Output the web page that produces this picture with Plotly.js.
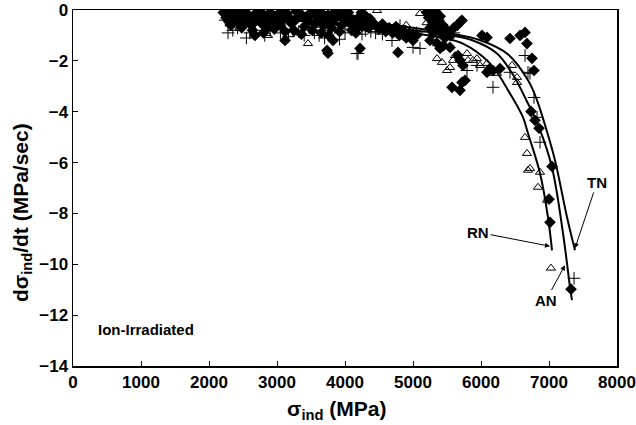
<!DOCTYPE html>
<html>
<head>
<meta charset="utf-8">
<script src="https://cdn.plot.ly/plotly-3.0.1.min.js"></script>
<style>html,body{margin:0;padding:0;background:#fff;}#chart{width:636px;height:425px;}</style>
</head>
<body>
<div id="chart"></div>
<script>
// Filled diamonds
var diamondX = [2230,2260,2300,2340,2380,2420,2460,2500,2540,2580,2620,2660,2700,2740,2780,2820,2860,2900,2950,3000,3050,3100,3150,3200,3250,3300,3350,3400,3450,3500,3550,3600,3650,3700,3750,3800,3850,3900,3950,4000,4050,4100,4150,4200,4250,4300,4350,4400,
  2250,2320,2400,2480,2560,2640,2720,2800,2880,2960,3040,3120,3200,3280,3360,3440,3520,3600,3680,3760,3840,3920,4000,4080,4160,4240,4320,
  2210,2290,2370,2450,2530,2610,2690,2770,2850,2930,3010,3090,3170,3250,3330,3410,3490,3570,3650,3730,3810,3890,3970,4050,4130,4210,4290,4370,
  4450,4500,4550,4600,4650,4700,4750,4800,4850,4900,4950,5000,5050,
  5200,5230,5260,5290,5320,5350,5380,5410,5440,5470,5300,5250,5500,5550,5600,5650,5700,5250,5350,5450,5280,5330,5400,
  2676,3118,3735,3750,3824,4221,4779,5397,5544,5647,5721,5662,5691,5735,5574,5721,5765,5691,6015,6088,6088,6132,6176,6279,6426,6574,6647,6676,6750,6779,6735,6794,6853,7044,7000,7015,7324];
var diamondY = [-0.05,-0.2,-0.1,-0.35,-0.15,-0.5,-0.25,-0.1,-0.45,-0.3,-0.6,-0.2,-0.4,-0.15,-0.55,-0.3,-0.7,-0.1,-0.45,-0.25,-0.6,-0.35,-0.15,-0.5,-0.8,-0.3,-0.2,-0.65,-0.4,-0.1,-0.55,-0.3,-0.9,-0.45,-0.2,-0.7,-0.35,-0.15,-0.6,-0.4,-0.25,-0.8,-0.5,-0.3,-0.65,-0.45,-0.7,-0.5,
  -0.3,-0.6,-0.05,-0.7,-0.15,-0.8,-0.05,-0.9,-0.35,-0.75,-0.1,-0.85,-0.4,-0.05,-0.95,-0.25,-0.8,-0.05,-0.6,-1.0,-0.1,-0.85,-0.05,-0.55,-0.9,-0.1,-0.3,
  -0.1,-0.45,-0.2,-0.35,-0.05,-0.4,-0.25,-0.1,-0.5,-0.2,-0.4,-0.05,-0.3,-0.45,-0.1,-0.35,-0.2,-0.5,-0.1,-0.3,-0.5,-0.25,-0.35,-0.1,-0.4,-0.6,-0.2,-0.35,
  -0.6,-0.75,-0.55,-0.85,-0.7,-0.9,-0.65,-1.0,-0.8,-1.1,-0.9,-1.2,-1.0,
  -0.1,-0.3,-0.05,-0.5,-0.2,-0.7,-0.4,-0.9,-0.6,-1.1,-0.9,-0.7,-0.8,-1.0,-0.7,-0.6,-0.45,-1.2,-1.3,-1.4,-0.15,-0.05,-0.25,
  -1.0,-1.2,-1.59,-1.7,-1.2,-1.51,-1.67,-1.51,-1.47,-0.61,-0.41,-1.79,-1.98,-2.18,-3.04,-2.85,-2.77,-3.16,-1.0,-1.08,-2.45,-2.3,-2.38,-2.3,-1.12,-1.0,-0.88,-1.32,-1.9,-2.38,-3.99,-4.34,-4.65,-6.15,-7.44,-8.35,-10.98];

// Open triangles
var triangleX = [2300,2600,2868,3100,3456,3600,3853,4000,4300,4471,4600,4800,5103,5200,5300,5353,
  2450,2950,3300,3750,4150,4900,5000,
  5353,5426,5500,5544,5588,5618,5794,5809,5882,5941,5985,6088,6132,6235,6529,6529,6456,
  6647,6676,6691,6721,6868,6838,6971,7029];
var triangleY = [-0.3,-0.5,-1.0,-0.4,-1.32,-0.6,-0.14,-0.5,-0.3,-0.02,-0.7,-0.8,-0.14,-0.5,-0.9,-1.32,
  -0.7,-0.6,-0.9,-0.8,-0.7,-0.6,-0.9,
  -1.91,-2.06,-2.38,-2.26,-1.98,-1.79,-1.71,-1.98,-1.98,-1.91,-2.18,-2.1,-2.49,-2.49,-2.65,-2.85,-2.18,
  -5.01,-5.64,-6.3,-6.23,-6.38,-6.97,-7.48,-10.15];

// Crosses
var crossX = [2240,2350,2485,2600,2750,2900,3050,3235,3400,3550,3700,3850,4000,4176,4191,
  2280,2420,2550,2680,2820,2960,3100,3170,3320,3480,3620,3780,3920,4080,4250,4380,4550,4700,4900,5050,
  4300,4450,4691,4809,5000,5103,5250,5400,5600,5794,5941,6176,6426,6647,6691,6721,6779,6824,6868,7368];
var crossY = [-0.4,-0.8,-0.61,-0.9,-0.41,-0.8,-0.9,-0.81,-1.0,-0.9,-1.1,-0.7,-0.9,-1.71,-1.71,
  -0.9,-0.7,-1.1,-0.8,-1.0,-0.6,-0.75,-1.05,-0.85,-0.7,-1.0,-0.8,-1.15,-0.75,-0.95,-0.85,-0.95,-0.8,-1.0,-0.9,
  -0.8,-0.9,-1.2,-0.61,-1.47,-1.51,-0.3,-0.6,-0.9,-2.38,-2.18,-3.04,-2.45,-1.79,-2.45,-2.49,-3.44,-4.22,-5.2,-10.55];

// Fitted curves
var rnX = [2200,3000,4000,4500,4912,5400,5735,6132,6426,6618,6691,6868,6985,7044];
var rnY = [-0.15,-0.35,-0.6,-0.75,-0.88,-1.08,-1.32,-2.10,-3.28,-4.22,-4.85,-6.42,-8.15,-9.45];
var anX = [2200,3000,4000,5000,5397,5882,6235,6471,6676,6850,7044,7206,7309,7338];
var anY = [-0.1,-0.3,-0.55,-0.8,-0.92,-1.2,-1.71,-2.55,-3.6,-4.6,-6.19,-8.78,-10.9,-11.41];
var tnX = [2200,3000,4000,5000,5500,6000,6400,6700,6824,6950,7088,7265,7382];
var tnY = [-0.05,-0.2,-0.4,-0.7,-0.9,-1.2,-1.75,-2.8,-3.55,-4.6,-5.91,-8.15,-9.45];

var FONT = 'Liberation Sans, Arial, sans-serif';

var traces = [
  {x: diamondX, y: diamondY, mode: 'markers', type: 'scatter',
   marker: {symbol: 'diamond', size: 9, color: '#000'}},
  {x: triangleX, y: triangleY, mode: 'markers', type: 'scatter',
   marker: {symbol: 'triangle-up-open', size: 8, color: '#000', line: {width: 1}}},
  {x: crossX, y: crossY, mode: 'markers', type: 'scatter',
   marker: {symbol: 'cross-thin-open', size: 9, color: '#000', line: {width: 1, color: '#000'}}},
  {x: rnX, y: rnY, mode: 'lines', type: 'scatter', line: {color: '#000', width: 2, shape: 'spline', smoothing: 1}},
  {x: anX, y: anY, mode: 'lines', type: 'scatter', line: {color: '#000', width: 2, shape: 'spline', smoothing: 1}},
  {x: tnX, y: tnY, mode: 'lines', type: 'scatter', line: {color: '#000', width: 2, shape: 'spline', smoothing: 1}}
];

var axisCommon = {
  showgrid: false, zeroline: false, showline: true, mirror: true,
  linecolor: '#000', linewidth: 1.5, ticks: 'inside', ticklen: 5, tickwidth: 1, tickcolor: '#000',
  tickfont: {family: FONT, size: 17, color: '#000', weight: 'bold'}
};

var layout = {
  width: 636, height: 425,
  margin: {l: 73, r: 19, t: 9.5, b: 59},
  paper_bgcolor: '#fff', plot_bgcolor: '#fff',
  showlegend: false,
  xaxis: Object.assign({}, axisCommon, {range: [0, 8000], dtick: 1000, tick0: 0}),
  yaxis: Object.assign({}, axisCommon, {range: [-14, 0], dtick: 2, tick0: 0}),
  annotations: [
    {x: 0.4835, y: -0.123, xref: 'paper', yref: 'paper', text: 'σ<sub>ind</sub> (MPa)', showarrow: false,
     xanchor: 'center', yanchor: 'middle',
     font: {family: FONT, size: 21, color: '#000', weight: 'bold'}},
    {x: -0.094, y: 0.432, xref: 'paper', yref: 'paper', text: 'dσ<sub>ind</sub>/dt (MPa/sec)', showarrow: false,
     textangle: -90, xanchor: 'center', yanchor: 'middle',
     font: {family: FONT, size: 21, color: '#000', weight: 'bold'}},
    {x: 338, y: -12.55, xref: 'x', yref: 'y', text: 'Ion-Irradiated', showarrow: false, xanchor: 'left',
     font: {family: FONT, size: 15, color: '#000', weight: 'bold'}},
    {x: 7382, y: -9.37, ax: 7706, ay: -6.78, xref: 'x', yref: 'y', axref: 'x', ayref: 'y', text: 'TN',
     showarrow: true, arrowhead: 2, arrowsize: 1, arrowwidth: 1, arrowcolor: '#000',
     font: {family: FONT, size: 15, color: '#000', weight: 'bold'}},
    {x: 7015, y: -9.29, ax: 5956, ay: -8.74, xref: 'x', yref: 'y', axref: 'x', ayref: 'y', text: 'RN',
     showarrow: true, arrowhead: 2, arrowsize: 1, arrowwidth: 1, arrowcolor: '#000',
     font: {family: FONT, size: 15, color: '#000', weight: 'bold'}},
    {x: 7235, y: -10.04, ax: 6956, ay: -11.41, xref: 'x', yref: 'y', axref: 'x', ayref: 'y', text: 'AN',
     showarrow: true, arrowhead: 2, arrowsize: 1, arrowwidth: 1, arrowcolor: '#000',
     font: {family: FONT, size: 15, color: '#000', weight: 'bold'}}
  ]
};

Plotly.newPlot('chart', traces, layout, {displayModeBar: false, staticPlot: true});
</script>
</body>
</html>
